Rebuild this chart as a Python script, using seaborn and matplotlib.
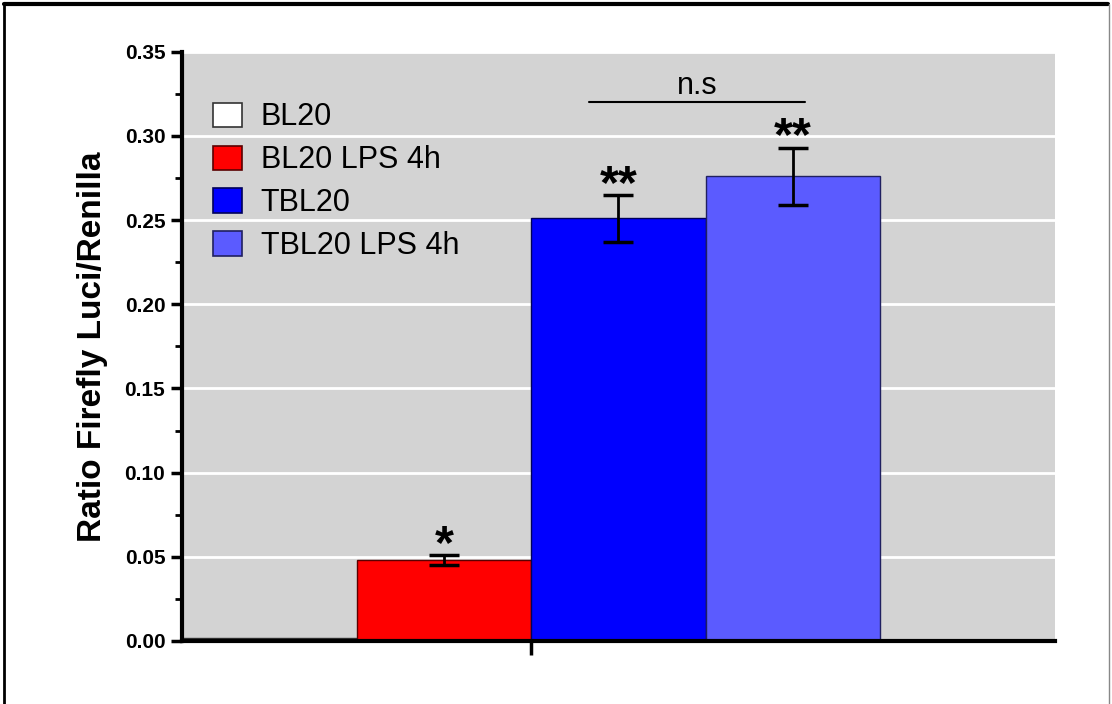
import matplotlib
matplotlib.use("Agg")
import matplotlib.pyplot as plt
import matplotlib.lines as mlines
import seaborn as sns
import pandas as pd

# Luciferase reporter readout per condition
groups = ["BL20", "BL20 LPS 4h", "TBL20", "TBL20 LPS 4h"]
ratios = [0.002, 0.048, 0.251, 0.276]
errors = [0.0, 0.003, 0.014, 0.017]
stars = ["", "*", "**", "**"]
colors = ["#ffffff", "#ff0000", "#0000ff", "#5b5bff"]
edges = ["#333333", "#5a0000", "#00005a", "#202060"]
yticks = [0.00, 0.05, 0.10, 0.15, 0.20, 0.25, 0.30, 0.35]
ns_pair = (1.83, 3.07)
ns_level = 0.320

sns.set_theme(style="white")
plt.rcParams["font.family"] = ["Liberation Sans", "DejaVu Sans"]
plt.rcParams["text.color"] = "black"
plt.rcParams["axes.labelcolor"] = "black"
plt.rcParams["xtick.color"] = "black"
plt.rcParams["ytick.color"] = "black"

df = pd.DataFrame({"group": groups, "ratio": ratios})

fig = plt.figure(figsize=(11.12, 7.04), dpi=100)
ax = fig.add_axes([0.1637, 0.0895, 0.785, 0.837])
ax.set_facecolor("#d3d3d3")

sns.barplot(data=df, x="group", y="ratio", hue="group", palette=colors,
            order=groups, hue_order=groups, width=1.0, dodge=False,
            saturation=1, legend=False, ax=ax, zorder=2)

for cont, ec in zip(ax.containers, edges):
    for p in cont.patches:
        p.set_edgecolor(ec)
        p.set_linewidth(1.0)

ax.errorbar(range(1, len(groups)), ratios[1:], yerr=errors[1:], fmt="none",
            ecolor="black", elinewidth=2, capsize=11, capthick=2.5, zorder=4)

for i, (v, e, s) in enumerate(zip(ratios, errors, stars)):
    if s:
        ax.text(i, v + e + 0.0058, s, ha="center", va="center",
                fontsize=35, fontweight="bold", zorder=5)

ax.plot(ns_pair, [ns_level, ns_level], color="black", lw=1.5, zorder=5)
ax.text(sum(ns_pair) / 2, ns_level + 0.0006, "n.s", ha="center", va="bottom",
        fontsize=22, zorder=5)

ax.set_xlim(-0.5, 4.5)
ax.set_ylim(0, 0.35)
ax.set_yticks(yticks)
ax.set_yticklabels([f"{t:.2f}" for t in yticks], fontweight="bold", fontsize=15)
ax.set_yticks([0.025 + 0.05 * k for k in range(7)], minor=True)
ax.set_xticks([1.5])
ax.set_xticklabels([""])
ax.set_xlabel("")
ax.set_ylabel("Ratio Firefly Luci/Renilla", fontsize=24, fontweight="bold",
              labelpad=12)

ax.yaxis.grid(True, color="white", lw=2, zorder=1)
ax.set_axisbelow(True)
ax.tick_params(axis="y", which="major", direction="out", length=8, width=2.5,
               left=True, color="black", pad=4)
ax.tick_params(axis="y", which="minor", direction="out", length=5, width=2,
               left=True, color="black")
ax.tick_params(axis="x", which="major", direction="out", length=10, width=2.5,
               bottom=True, color="black")
for side in ("top", "right"):
    ax.spines[side].set_visible(False)
for side in ("left", "bottom"):
    ax.spines[side].set_color("black")
    ax.spines[side].set_linewidth(3)

handles = []
for c, ec in zip(colors, edges):
    handles.append(plt.Rectangle((0, 0), 1, 1, facecolor=c, edgecolor=ec, lw=1.2))
ax.legend(handles, groups, loc="upper left", bbox_to_anchor=(0.015, 0.945),
          frameon=False, fontsize=22, handlelength=0.95, handleheight=0.85,
          labelspacing=0.42, handletextpad=0.6, borderaxespad=0.2)

# outer frame of the figure panel
fig.add_artist(mlines.Line2D([0.004, 0.996], [0.994, 0.994], color="black",
                             lw=3, transform=fig.transFigure))
fig.add_artist(mlines.Line2D([0.004, 0.004], [0.0, 0.994], color="black",
                             lw=2, transform=fig.transFigure))
fig.add_artist(mlines.Line2D([0.9975, 0.9975], [0.0, 0.994], color="#888888",
                             lw=1, transform=fig.transFigure))

fig.savefig("out.png", dpi=100)
